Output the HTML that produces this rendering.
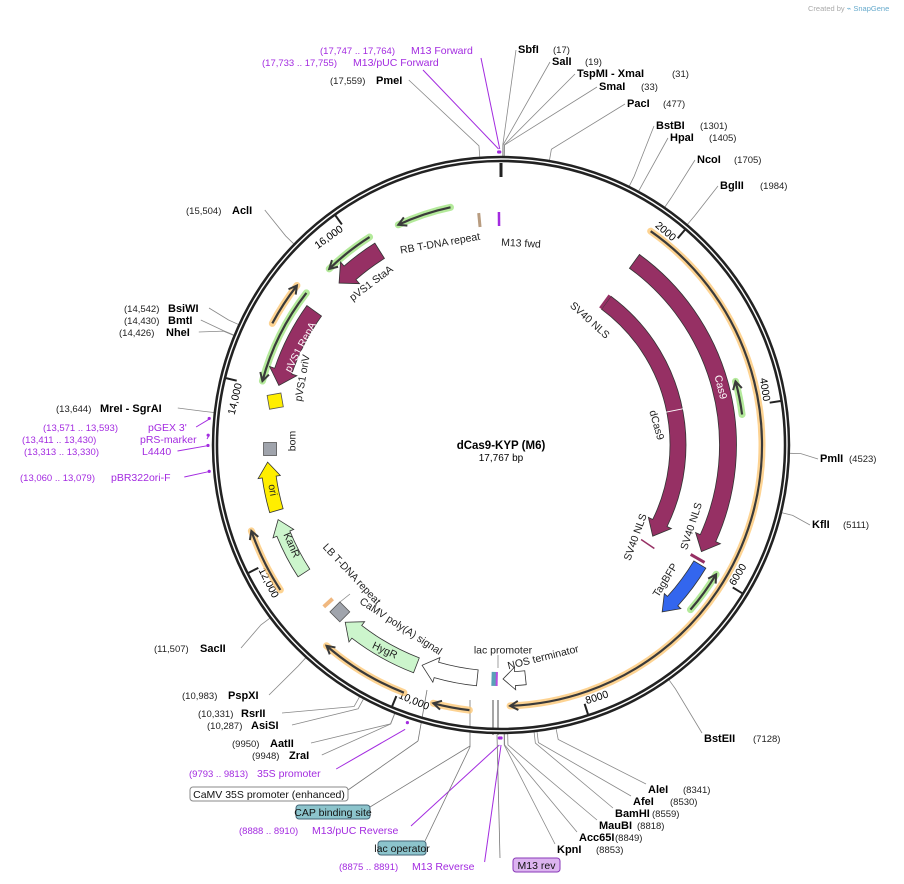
<!DOCTYPE html>
<html><head><meta charset="utf-8"><style>
html,body{margin:0;padding:0;background:#fff;}
svg{display:block;font-family:"Liberation Sans","DejaVu Sans",sans-serif;}
.en{font-weight:bold;font-size:11px;fill:#000}
.nm{font-size:9.5px;fill:#222}
.pp{fill:#a32be0;font-size:10.5px}
.ppn{fill:#a32be0;font-size:9.5px}
.fl{font-size:10.5px;fill:#222}
</style></head><body>
<svg id="map" width="904" height="884" viewBox="0 0 904 884" xmlns="http://www.w3.org/2000/svg">
<text x="808" y="11" font-size="7.5" fill="#aaa">Created by <tspan fill="#6ac">⌁ SnapGene</tspan></text>
<g id="leaders"></g>
<g id="ring"></g>
<g id="feats"></g>
<g id="labels"></g>
<text x="501" y="449" text-anchor="middle" font-weight="bold" font-size="11.5">dCas9-KYP (M6)</text>
<text x="501" y="461" text-anchor="middle" font-size="10">17,767 bp</text>
</svg>
<script>
const TOTAL = 17767;
const tickValues = [2000,4000,6000,8000,10000,12000,14000,16000];
const tickLabels = ["2000","4000","6000","8000","10,000","12,000","14,000","16,000"];
const enzNames = ["SbfI","SalI","TspMI","SmaI","PacI","BstBI","HpaI","NcoI","BglII","PmlI","KflI","BstEII","AleI","AfeI","BamHI","MauBI","Acc65I","KpnI","ZraI","AatII","AsiSI","RsrII","PspXI","SacII","MreI","NheI","BmtI","BsiWI","AclI","PmeI"];
const enzSites = [17,19,31,33,477,1301,1405,1705,1984,4523,5111,7128,8341,8530,8559,8818,8849,8853,9948,9950,10287,10331,10983,11507,13644,14426,14430,14542,15504,17559];
const primerNames = ["M13 Forward","M13/pUC Forward","35S promoter","M13/pUC Reverse","M13 Reverse","pGEX 3'","pRS-marker","L4440","pBR322ori-F"];
const primerSites = [17755,17744,9803,8899,8883,13582,13420,13321,13070];
const featNames = ["outer-orange","Cas9","dCas9","TagBFP","green-a","green-b","green-c","green-d","green-e","orange-16k","pVS1 StaA","pVS1 RepA","ori","KanR","orange-12k","HygR","orange-hygr","promoter-arrow","NOS terminator","orange-10k"];
const featStart = [1727,1777,1801,5972,4086,6465,17175,16173,15201,14707,16188,15087,12521,11697,11682,9920,9940,9170,8587,9219];
const featEnd   = [8785,5824,5972,6712,3692,5972,16533,15581,14066,15201,15546,14066,13118,12412,12388,10922,10907,9856,8859,9609];

const NS="http://www.w3.org/2000/svg";
const CX=501, CY=445, R=286;
function ang(bp){return bp/TOTAL*2*Math.PI;}
function pt(bp,r){const a=ang(bp);return [CX+r*Math.sin(a),CY-r*Math.cos(a)];}
function el(tag,attrs,parent,text){const e=document.createElementNS(NS,tag);for(const k in attrs)e.setAttribute(k,attrs[k]);if(text!==undefined)e.textContent=text;document.getElementById(parent).appendChild(e);return e;}
function fmt(n){return n>=10000?n.toLocaleString('en-US'):String(n);}

let c1=el('circle',{cx:CX,cy:CY,r:R,fill:'none',stroke:'#222','stroke-width':6.5},'ring');


el('circle',{cx:CX,cy:CY,r:R,fill:'none',stroke:'#fff','stroke-width':1.4},'ring');
let z=el('line',{x1:pt(0,268)[0],y1:pt(0,268)[1],x2:pt(0,282)[0],y2:pt(0,282)[1],stroke:'#222','stroke-width':3},'ring');


tickValues.forEach((v,i)=>{
  const a=pt(v,272),b=pt(v,283);
  const t=el('line',{x1:a[0],y1:a[1],x2:b[0],y2:b[1],stroke:'#222','stroke-width':2},'ring');
  
  
  const deg=v/TOTAL*360;const flip=deg>90&&deg<270;
  const p=pt(v,275);
  const rot=flip?deg-180:deg;
  const lb=el('text',{x:p[0],y:p[1],'font-size':10.5,'text-anchor':flip?'start':'end',transform:`rotate(${rot} ${p[0]} ${p[1]}) translate(${flip?2:-2},${flip?-2:9})`},'ring',tickLabels[i]);
  
  
});

function arcArrow(s,e,r,w,fill,stroke,name,headLen){
  const cw = e>s ? 1 : -1;
  const hl=(headLen||14)/ (2*Math.PI*r) * TOTAL;
  const bodyEnd = e - cw*hl;
  const ro=r+w/2, ri=r-w/2, hw=w*0.8;
  const p1=pt(s,ro),p2=pt(bodyEnd,ro),p3=pt(bodyEnd,r+hw),p4=pt(e,r),p5=pt(bodyEnd,r-hw),p6=pt(bodyEnd,ri),p7=pt(s,ri);
  const large=Math.abs(bodyEnd-s)/TOTAL>0.5?1:0;
  const sw=cw>0?1:0, sw2=cw>0?0:1;
  const d=`M${p1} A${ro},${ro} 0 ${large} ${sw} ${p2} L${p3} L${p4} L${p5} L${p6} A${ri},${ri} 0 ${large} ${sw2} ${p7} Z`;
  const p=el('path',{d:d,fill:fill,stroke:stroke,'stroke-width':0.8},'feats');
  
  
  return p;
}
function lineArrow(s,e,r,glow,name){
  const cw=e>s?1:-1;
  const hl=8/(2*Math.PI*r)*TOTAL;
  const a=pt(s,r),b=pt(e,r);
  const large=Math.abs(e-s)/TOTAL>0.5?1:0;
  const d=`M${a} A${r},${r} 0 ${large} ${cw>0?1:0} ${b}`;
  el('path',{d:d,fill:'none',stroke:glow,'stroke-width':7,'stroke-linecap':'round',opacity:0.75},'feats');
  const p=el('path',{d:d,fill:'none',stroke:'#3a3a3a','stroke-width':2.2},'feats');
  
  
  const hb=e-cw*hl, h1=pt(hb,r+4.5), h2=pt(hb,r-4.5);
  el('path',{d:`M${h1} L${b} L${h2}`,fill:'none',stroke:'#3a3a3a','stroke-width':2},'feats');
}
const styleMap={
 "outer-orange":["line",261,"#fcc46e"],"Cas9":["arc",227,17,"#963064"],"dCas9":["arc",177,16,"#963064"],
 "TagBFP":["arc",232,14,"#3366ee"],"green-a":["line",243,"#9be37a"],"green-b":["line",251,"#9be37a"],
 "green-c":["line",243,"#9be37a"],"green-d":["line",246,"#9be37a"],"green-e":["line",247,"#9be37a"],
 "orange-16k":["line",259,"#fcc46e"],"pVS1 StaA":["arc",229,18,"#963064"],"pVS1 RepA":["arc",230,18,"#963064"],
 "ori":["arc",234,14,"#ffee00"],"KanR":["arc",235,14,"#ccf5cc"],"orange-12k":["line",264,"#fcc46e"],
 "HygR":["arc",236,16,"#ccf5cc"],"orange-hygr":["line",266,"#fcc46e"],"promoter-arrow":["arc",234,16,"#fff"],
 "NOS terminator":["arc",234,14,"#fff"],"orange-10k":["line",267,"#fcc46e"]};
featNames.forEach((n,i)=>{
  const st=styleMap[n];const nm=n.toLowerCase().replace(/[^a-z0-9]+/g,'-');
  if(st[0]==='line') lineArrow(featStart[i],featEnd[i],st[1],st[2],nm+'-feature');
  else arcArrow(featStart[i],featEnd[i],st[1],st[2],st[3],'#333',nm+'-feature',n==="NOS terminator"?12:15);
});
function box(bp,r,size,fill,name,rot){
  const p=pt(bp,r);
  const b=el('rect',{x:p[0]-size/2,y:p[1]-size/2,width:size,height:size,fill:fill,stroke:'#555','stroke-width':0.8,transform:`rotate(${rot||0} ${p[0]} ${p[1]})`},'feats');
  
  
}
box(13868,230,14,'#ffee00','pvs1-oriv-box',-10);
box(13276,231,13,'#a0a4ac','bom-box',0);
box(11055,232,14,'#a0a4ac','camv-polya-box',45);
function tick(bp,r1,r2,col,w,name){const a=pt(bp,r1),b=pt(bp,r2);const l=el('line',{x1:a[0],y1:a[1],x2:b[0],y2:b[1],stroke:col,'stroke-width':w},'feats');}
tick(17742,219,233,'#a32be0',2.5,'m13-fwd-mark');
tick(17496,219,233,'#b89c80',3,'rb-tdna-mark');
tick(11233,228,240,'#f0b880',4,'lb-tdna-mark');
tick(1777,169,185,'#963064',3,'sv40-nls-mark-1');
tick(6120,169,185,'#963064',1.5,'sv40-nls-mark-2');
tick(5922,219,235,'#963064',3,'sv40-nls-mark-3');
tick(8962,227,241,'#5aa0b8',6,'lac-promoter-box');
tick(8935,227,241,'#b84de0',2,'lac-m13-mark');
tick(3886,168,186,'#fff',1,'dcas9-divider');

const enzLabelPos=[[518,53,553],[552,65,585],[577,77,672],[599,90,641],[627,107,663],[656,129,700],[670,141,709],[697,163,734],[720,189,760],[820,462,849],[812,528,843],[704,742,753],[648,793,683],[633,805,670],[615,817,652],[599,829,637],[579,841,615],[557,853,596],[289,759,252],[270,747,232],[251,729,207],[241,717,198],[228,699,182],[200,652,154],[100,412,56],[166,336,119],[168,324,124],[168,312,124],[232,214,186],[376,84,330]];
enzNames.forEach((n,i)=>{
  const [x,y,nx]=enzLabelPos[i];
  const right = nx>x;
  const t=el('text',{x:x,y:y,class:'en'},'labels',n==='TspMI'?'TspMI   - XmaI':(n==='MreI'?'MreI   - SgrAI':n));
  
  
  el('text',{x:nx,y:y,class:'nm'},'labels','('+fmt(enzSites[i])+')');
  const a=pt(enzSites[i],300),b=pt(enzSites[i],289);
  let lx,ly;
  if(right){lx=x-2;ly=y-3;}else{lx=x+ (n.length*8.2)+ (n==='MreI'?45:0); ly=y-4;}
  if(enzSites[i]>7000&&enzSites[i]<9000){ly=y-9;}
  const l=el('polyline',{points:`${lx},${ly} ${a} ${b}`,fill:'none',stroke:'#888','stroke-width':0.8},'leaders');
  
  
});
const primerLabelPos=[[411,54,320],[353,66,262],[257,777,189],[312,834,239],[412,870,339],[148,431,43],[140,443,22],[142,455,24],[111,481,20]];
const primerRanges=["(17,747 .. 17,764)","(17,733 .. 17,755)","(9793 .. 9813)","(8888 .. 8910)","(8875 .. 8891)","(13,571 .. 13,593)","(13,411 .. 13,430)","(13,313 .. 13,330)","(13,060 .. 13,079)"];
primerNames.forEach((n,i)=>{
  const [x,y,nx]=primerLabelPos[i];
  const t=el('text',{x:x,y:y,class:'pp'},'labels',n);
  
  
  el('text',{x:nx,y:y,class:'ppn'},'labels',primerRanges[i]);
  const top=primerSites[i]>17000;
  const left=primerSites[i]>12000&&primerSites[i]<14000;
  const a=pt(primerSites[i],top?296:left?292:300);
  let lx,ly;
  if(top){lx=x+70;ly=y+4;}else if(left){lx=x+n.length*6.3+4;ly=y-4;}else{lx=x+n.length*6.6;ly=y-8;}
  const l=el('line',{x1:lx,y1:ly,x2:a[0],y2:a[1],stroke:'#a32be0','stroke-width':1},'leaders');
  
  
  const m=pt(primerSites[i],293);
  el('circle',{cx:m[0],cy:m[1],r:1.6,fill:'#a32be0'},'leaders');
});
function boxLabel(x,y,w,text,fill,stroke,name,lx,ly,tx,ty){
  el('polyline',{points:`${lx},${ly} ${tx},${ty}`,fill:'none',stroke:'#777','stroke-width':0.8},'leaders');
  const r=el('rect',{x:x,y:y,width:w,height:14,rx:3,fill:fill,stroke:stroke,'stroke-width':1},'labels');
  
  
  el('text',{x:x+w/2,y:y+11,'text-anchor':'middle','font-size':10.5,fill:'#111'},'labels',text);
}
boxLabel(190,787,158,'CaMV 35S promoter (enhanced)','#fff','#888','camv-35s-label',348,790,418,741);
el('polyline',{points:'418,741 427,690',fill:'none',stroke:'#777','stroke-width':0.8},'leaders');
boxLabel(296,805,74,'CAP binding site','#8cc4cc','#467','cap-site-label',370,807,470,746);
boxLabel(378,841,48,'lac operator','#8cc4cc','#467','lac-operator-label',425,841,470,747);
boxLabel(513,858,47,'M13 rev','#dcb4f0','#8a3ab8','m13-rev-label',500,858,497,735);
el('line',{x1:470,y1:747,x2:470,y2:700,stroke:'#777','stroke-width':0.8},'leaders');
el('line',{x1:493,y1:735,x2:493,y2:700,stroke:'#888','stroke-width':1.5},'leaders');
el('line',{x1:498,y1:735,x2:498,y2:700,stroke:'#888','stroke-width':1.5},'leaders');

const fLabels=[["RB T-DNA repeat",440,243,-10,'#222'],["M13 fwd",521,243,3,'#222'],["pVS1 StaA",371,283,-37,'#222'],["pVS1 RepA",300,347,-62,'#fff'],["pVS1 oriV",302,378,-80,'#222'],["bom",292,441,-90,'#222'],["ori",273,490,80,'#222'],["KanR",292,545,66,'#222'],["LB T-DNA repeat",352,574,47,'#222'],["CaMV poly(A) signal",401,626,33,'#222'],["HygR",385,650,25,'#222'],["lac promoter",503,650,0,'#222'],["NOS terminator",543,657,-14,'#222'],["SV40 NLS",590,320,42,'#222'],["dCas9",657,425,74,'#222'],["SV40 NLS",635,537,-70,'#222'],["SV40 NLS",691,526,-72,'#222'],["TagBFP",665,580,-58,'#222'],["Cas9",721,387,76,'#fff']];
fLabels.forEach(f=>{
  const t=el('text',{x:f[1],y:f[2],'text-anchor':'middle','font-size':10.5,fill:f[4],transform:`rotate(${f[3]} ${f[1]} ${f[2]})`,dy:'0.35em'},'labels',f[0]);
  
  
});
el('line',{x1:498,y1:655,x2:498,y2:668,stroke:'#888','stroke-width':0.8},'leaders');
el('line',{x1:340,y1:602,x2:350,y2:594,stroke:'#888','stroke-width':0.8},'leaders');
</script>
</body></html>
